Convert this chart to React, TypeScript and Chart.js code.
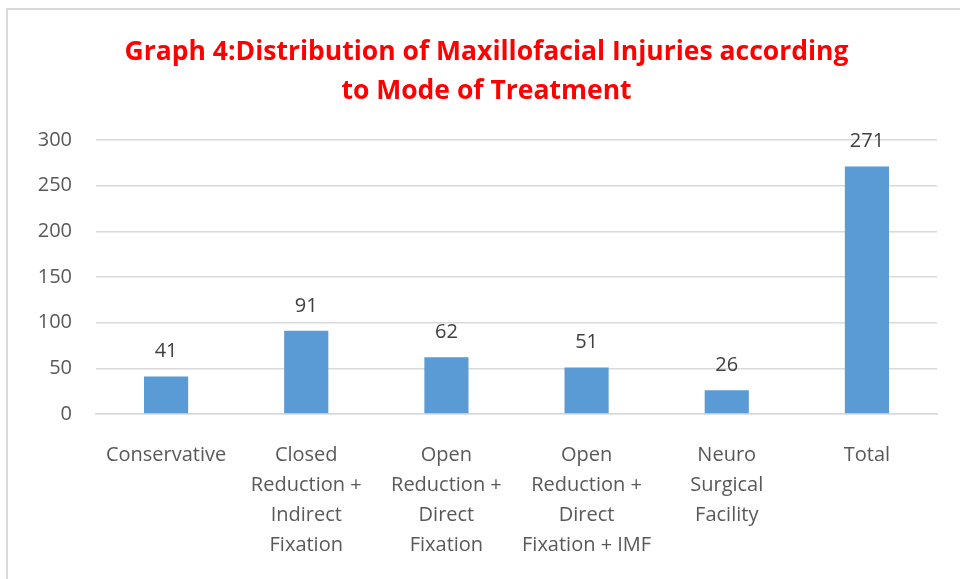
import React, { useEffect, useRef } from "react";
import { Chart, registerables } from "chart.js";

Chart.register(...registerables);

const categories: string[][] = [
  ["Conservative"],
  ["Closed", "Reduction +", "Indirect", "Fixation"],
  ["Open", "Reduction +", "Direct", "Fixation"],
  ["Open", "Reduction +", "Direct", "Fixation + IMF"],
  ["Neuro", "Surgical", "Facility"],
  ["Total"],
];
const values: number[] = [41, 91, 62, 51, 26, 271];
const titleLines: string[] = [
  "Graph 4:Distribution of Maxillofacial Injuries according",
  "to Mode of Treatment",
];
const yMin = 0;
const yMax = 300;
const yStep = 50;

const FONT = "'Open Sans', Lato, sans-serif";

const dataLabelPlugin = {
  id: "dataLabels",
  afterDatasetsDraw(chart: any) {
    const ctx = chart.ctx;
    const meta = chart.getDatasetMeta(0);
    ctx.save();
    ctx.font = `20px ${FONT}`;
    ctx.fillStyle = "#404040";
    ctx.textAlign = "center";
    ctx.textBaseline = "middle";
    meta.data.forEach((bar: any, i: number) => {
      ctx.fillText(String(values[i]), bar.x, bar.y - 25);
    });
    ctx.restore();
  },
};

export default function App() {
  const ref = useRef<HTMLCanvasElement>(null);
  useEffect(() => {
    if (!ref.current) return;
    const chart = new Chart(ref.current, {
      type: "bar",
      data: {
        labels: categories,
        datasets: [
          {
            data: values,
            backgroundColor: "#5B9BD5",
            borderWidth: 0,
            barPercentage: 0.63,
            categoryPercentage: 0.5,
          },
        ],
      },
      options: {
        animation: false,
        responsive: false,
        maintainAspectRatio: false,
        layout: { padding: { left: 36, right: 23, top: 0, bottom: 0 } },
        plugins: {
          legend: { display: false },
          tooltip: { enabled: false },
          title: {
            display: true,
            text: titleLines,
            color: "#FF0000",
            font: { family: FONT, size: 26.5, weight: "bold", lineHeight: 1.47 },
            padding: { top: 33, bottom: 29 },
          },
        },
        scales: {
          x: {
            grid: { display: false, drawTicks: false },
            border: { color: "#d9d9d9", width: 1.5 },
            ticks: {
              color: "#595959",
              font: { family: FONT, size: 20, lineHeight: 1.5 },
              padding: 26,
              maxRotation: 0,
              autoSkip: false,
            },
            afterFit(scale: any) {
              scale.height = 165;
            },
          },
          y: {
            min: yMin,
            max: yMax,
            ticks: {
              stepSize: yStep,
              color: "#595959",
              font: { family: FONT, size: 20 },
              padding: 24,
            },
            grid: { color: "#d9d9d9", lineWidth: 1.5, drawTicks: false },
            border: { display: false },
            afterFit(scale: any) {
              scale.width = 60;
            },
          },
        },
      },
      plugins: [dataLabelPlugin],
    });
    return () => chart.destroy();
  }, []);

  return (
    <div style={{ position: "fixed", left: 0, top: 0, width: 960, height: 579, background: "#fff", overflow: "hidden" }}>
      <div
        style={{
          position: "absolute",
          left: 6,
          top: 8,
          width: 980,
          height: 600,
          borderTop: "2px solid #d9d9d9",
          borderLeft: "2px solid #d9d9d9",
        }}
      />
      <canvas ref={ref} width={960} height={579} style={{ position: "absolute", left: 0, top: 0 }} />
    </div>
  );
}
